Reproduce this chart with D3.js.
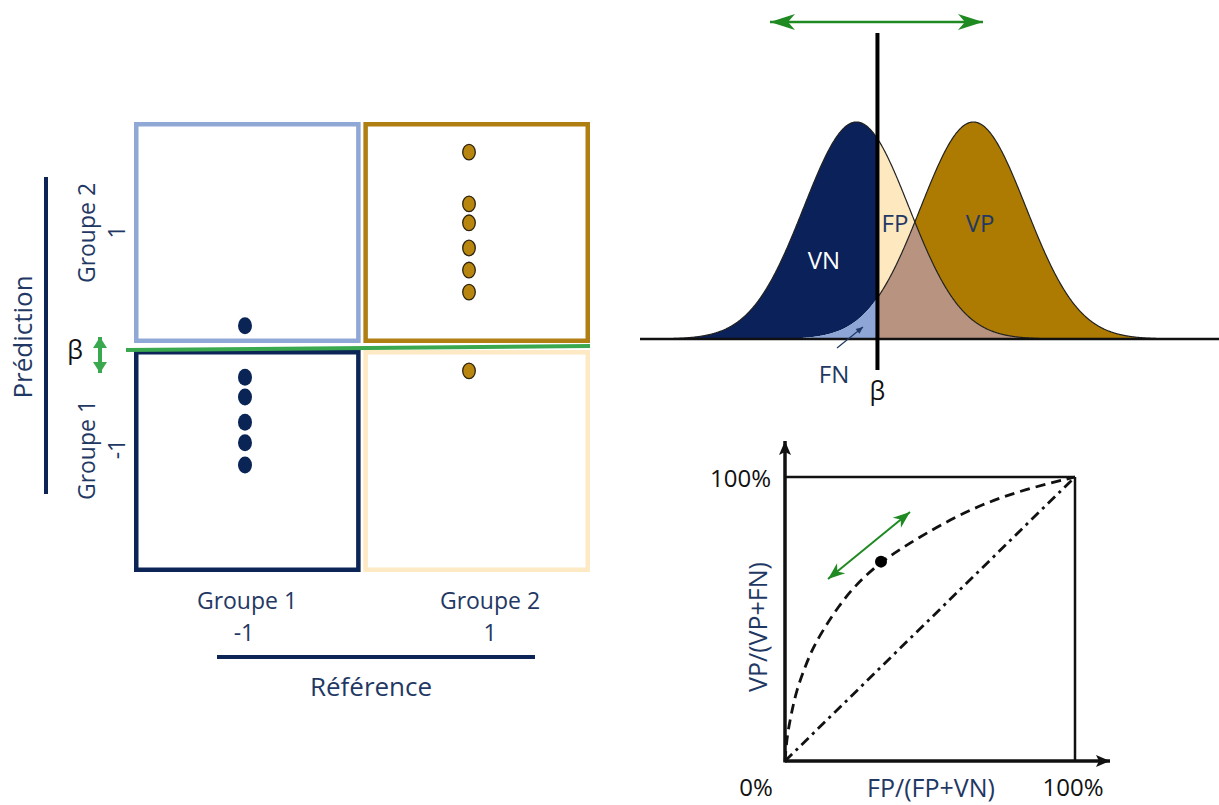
<!DOCTYPE html>
<html><head><meta charset="utf-8">
<script src="https://cdn.jsdelivr.net/npm/d3@7"></script>
<style>body{margin:0;background:#fff} text{font-family:"Open Sans",sans-serif}</style>
</head><body><svg id="c" width="1219" height="805"></svg>
<script>
// ================= DATA =================
// Left panel: confusion grid (reference x prediction) with scores
const referenceGroups = ["Groupe 1", "Groupe 2"];
const referenceCodes = ["-1", "1"];
const predictionGroups = ["Groupe 2", "Groupe 1"];   // top row, bottom row
const predictionCodes = ["1", "-1"];
const group1Scores = [0.547, 0.433, 0.389, 0.333, 0.287, 0.238];
const group2Scores = [0.933, 0.818, 0.776, 0.720, 0.671, 0.622, 0.447];
const betaScore = 0.5;

// Top-right panel: two score distributions (normal shapes) and the threshold
const distNames = ["Groupe 1", "Groupe 2"];
const distMeans = [-1, 1];
const distSds = [0.9, 0.9];
const betaThreshold = -0.64;
const regionLabels = ["VN", "FP", "VP", "FN"];

// Bottom-right panel: ROC curve
const rocFpr = [0, 0.004, 0.010, 0.023, 0.040, 0.069, 0.097, 0.138, 0.183, 0.241, 0.331, 0.425, 0.540, 0.678, 0.828, 1];
const rocTpr = [0, 0.050, 0.105, 0.172, 0.250, 0.331, 0.401, 0.472, 0.542, 0.618, 0.702, 0.764, 0.834, 0.904, 0.957, 1];
const rocPoint = [0.331, 0.702];
const chanceFpr = [0, 1];
const chanceTpr = [0, 1];
const rocTickLabels = ["0%", "100%"];
const rocXLabel = "FP/(FP+VN)";
const rocYLabel = "VP/(VP+FN)";

// ================= DRAW =================
const svg = d3.select("#c");
const NAVY_TXT = "#1f3864";
const defs = svg.append("defs");
function marker(id, color, len, hw, notch) {
  defs.append("marker").attr("id", id)
    .attr("viewBox", `${-len - 1} ${-hw - 1} ${len + 2} ${2 * hw + 2}`)
    .attr("markerUnits", "userSpaceOnUse")
    .attr("markerWidth", len + 2).attr("markerHeight", 2 * hw + 2)
    .attr("refX", 0).attr("refY", 0).attr("orient", "auto-start-reverse")
    .append("path")
    .attr("d", `M0,0 L${-len},${-hw} L${-len + notch},0 L${-len},${hw} Z`)
    .attr("fill", color);
}
marker("arrTop", "#1f8a22", 25, 8, 7);
marker("arrRoc", "#1f8a22", 17, 6.5, 5);
marker("arrLeft", "#3aa84f", 11, 7, 0);
marker("arrFN", NAVY_TXT, 7, 3, 0);
marker("arrAx", "#111", 14, 6, 3);

// ---------- LEFT PANEL ----------
const xBand = d3.scaleBand().domain(referenceGroups).range([134, 590]).paddingInner(0.012);
const yScore = d3.scaleLinear().domain([0, 1]).range([572, 122]);
const xRef = d3.scaleLinear().domain([-1, 1]).range([245, 469]);
const sw = 4.5;
const cellStroke = {
  "Groupe 1|Groupe 2": "#8fa8d6", "Groupe 2|Groupe 2": "#b07f12",
  "Groupe 1|Groupe 1": "#0d2457", "Groupe 2|Groupe 1": "#fde9c3"
};
const rowExtent = {
  "Groupe 2": [yScore(1), yScore(betaScore) - 4],
  "Groupe 1": [yScore(betaScore) + 3, yScore(0)]
};
predictionGroups.forEach(p => {
  referenceGroups.forEach(r => {
    const [y0, y1] = rowExtent[p];
    svg.append("rect")
      .attr("x", xBand(r) + sw / 2).attr("y", y0 + sw / 2)
      .attr("width", xBand.bandwidth() - sw).attr("height", y1 - y0 - sw)
      .attr("fill", "none").attr("stroke", cellStroke[r + "|" + p]).attr("stroke-width", sw);
  });
});
// threshold line
svg.append("line").attr("x1", 126).attr("x2", 590)
  .attr("y1", yScore(betaScore) + 3).attr("y2", yScore(betaScore) - 1)
  .attr("stroke", "#3aa84f").attr("stroke-width", 4);
// dots
svg.selectAll(".d1").data(group1Scores).join("ellipse")
  .attr("cx", xRef(+referenceCodes[0])).attr("cy", d => yScore(d))
  .attr("rx", 7).attr("ry", 8.5).attr("fill", "#0a2456");
svg.selectAll(".d2").data(group2Scores).join("ellipse")
  .attr("cx", xRef(+referenceCodes[1])).attr("cy", d => yScore(d))
  .attr("rx", 6.3).attr("ry", 7.8).attr("fill", "#b8860f")
  .attr("stroke", "#2f2410").attr("stroke-width", 1.3);
// beta + vertical arrow
svg.append("text").attr("x", 75).attr("y", 349).attr("text-anchor", "middle")
  .attr("dominant-baseline", "central").attr("font-size", 25).attr("fill", "#111").text("β");
svg.append("line").attr("x1", 100).attr("x2", 100).attr("y1", 337).attr("y2", 373)
  .attr("stroke", "#3aa84f").attr("stroke-width", 4)
  .attr("marker-start", "url(#arrLeft)").attr("marker-end", "url(#arrLeft)");
// prediction axis labels
svg.append("line").attr("x1", 46).attr("x2", 46).attr("y1", 177).attr("y2", 494)
  .attr("stroke", "#0d2457").attr("stroke-width", 4);
svg.append("text").attr("transform", "translate(22,337) rotate(-90)")
  .attr("text-anchor", "middle").attr("dominant-baseline", "central")
  .attr("font-size", 26).attr("fill", NAVY_TXT).text("Prédiction");
const rowCenters = [233, 450];
predictionGroups.forEach((g, i) => {
  svg.append("text").attr("transform", `translate(86,${rowCenters[i]}) rotate(-90)`)
    .attr("text-anchor", "middle").attr("dominant-baseline", "central")
    .attr("font-size", 23).attr("fill", NAVY_TXT).text(g);
  svg.append("text").attr("transform", `translate(116,${rowCenters[i] - 1}) rotate(-90)`)
    .attr("text-anchor", "middle").attr("dominant-baseline", "central")
    .attr("font-size", 23).attr("fill", NAVY_TXT).text(predictionCodes[i]);
});
// reference axis labels
const colCenters = [247, 490];
referenceGroups.forEach((g, i) => {
  svg.append("text").attr("x", colCenters[i]).attr("y", 600).attr("text-anchor", "middle")
    .attr("dominant-baseline", "central").attr("font-size", 23).attr("fill", NAVY_TXT).text(g);
  svg.append("text").attr("x", colCenters[i] - (i === 0 ? 3 : 0)).attr("y", 632).attr("text-anchor", "middle")
    .attr("dominant-baseline", "central").attr("font-size", 23).attr("fill", NAVY_TXT).text(referenceCodes[i]);
});
svg.append("line").attr("x1", 217).attr("x2", 535).attr("y1", 657).attr("y2", 657)
  .attr("stroke", "#0d2457").attr("stroke-width", 4);
svg.append("text").attr("x", 371).attr("y", 686).attr("text-anchor", "middle")
  .attr("dominant-baseline", "central").attr("font-size", 26).attr("fill", NAVY_TXT).text("Référence");

// ---------- TOP-RIGHT PANEL ----------
const xD = d3.scaleLinear().domain([-4.7, 5.2]).range([640, 1219]);
const yD = d3.scaleLinear().domain([0, 1]).range([339, 122]);
const shape = (x, i) => Math.exp(-0.5 * ((x - distMeans[i]) / distSds[i]) ** 2);
const step = 0.01;
const xsLeft = d3.range(-4.7, betaThreshold, step).concat([betaThreshold]);
const xsRight = [betaThreshold].concat(d3.range(betaThreshold + step, 5.2, step));
const xsAll = d3.range(-4.7, 5.2, step);
const area = (f0, f1) => d3.area().x(x => xD(x)).y0(x => yD(f0(x))).y1(x => yD(f1(x)));
const nav = x => shape(x, 0), gol = x => shape(x, 1), mn = x => Math.min(nav(x), gol(x));
const g2 = svg.append("g");
g2.append("path").datum(xsLeft).attr("d", area(gol, nav)).attr("fill", "#0a2159");           // VN
g2.append("path").datum(xsLeft).attr("d", area(() => 0, gol)).attr("fill", "#8ea6d6");      // FN
g2.append("path").datum(xsRight).attr("d", area(() => 0, mn)).attr("fill", "#b8937f");      // overlap
g2.append("path").datum(xsRight).attr("d", area(mn, x => Math.max(nav(x), mn(x)))).attr("fill", "#fde8bf"); // FP
g2.append("path").datum(xsRight).attr("d", area(mn, x => Math.max(gol(x), mn(x)))).attr("fill", "#ad7a02"); // VP
const line = f => d3.line().x(x => xD(x)).y(x => yD(f(x)));
g2.append("path").datum(xsAll).attr("d", line(nav)).attr("fill", "none").attr("stroke", "#222").attr("stroke-width", 1.2);
g2.append("path").datum(xsRight).attr("d", line(gol)).attr("fill", "none").attr("stroke", "#222").attr("stroke-width", 1.2);
// baseline and threshold
g2.append("line").attr("x1", 640).attr("x2", 1219).attr("y1", yD(0)).attr("y2", yD(0))
  .attr("stroke", "#111").attr("stroke-width", 2.5);
g2.append("line").attr("x1", xD(betaThreshold)).attr("x2", xD(betaThreshold)).attr("y1", 33).attr("y2", 370)
  .attr("stroke", "#000").attr("stroke-width", 4);
g2.append("line").attr("x1", 770).attr("x2", 983).attr("y1", 22).attr("y2", 22)
  .attr("stroke", "#1f8a22").attr("stroke-width", 2.5)
  .attr("marker-start", "url(#arrTop)").attr("marker-end", "url(#arrTop)");
const labelPos = { VN: [824, 259, "#fff"], FP: [895, 222, NAVY_TXT], VP: [980, 222, NAVY_TXT], FN: [834, 373, NAVY_TXT] };
regionLabels.forEach(l => {
  const [x, y, c] = labelPos[l];
  g2.append("text").attr("x", x).attr("y", y).attr("text-anchor", "middle")
    .attr("dominant-baseline", "central").attr("font-size", 24).attr("fill", c).text(l);
});
g2.append("line").attr("x1", 837).attr("y1", 348).attr("x2", 863).attr("y2", 327)
  .attr("stroke", NAVY_TXT).attr("stroke-width", 1.2).attr("marker-end", "url(#arrFN)");
g2.append("text").attr("x", xD(betaThreshold)).attr("y", 390).attr("text-anchor", "middle")
  .attr("dominant-baseline", "central").attr("font-size", 25).attr("fill", "#111").text("β");

// ---------- BOTTOM-RIGHT PANEL (ROC) ----------
const xR = d3.scaleLinear().domain([0, 1]).range([785, 1075]);
const yR = d3.scaleLinear().domain([0, 1]).range([761, 477]);
const g3 = svg.append("g");
// frame
g3.append("line").attr("x1", xR(0)).attr("x2", xR(1)).attr("y1", yR(1)).attr("y2", yR(1)).attr("stroke", "#111").attr("stroke-width", 2.5);
g3.append("line").attr("x1", xR(1)).attr("x2", xR(1)).attr("y1", yR(1)).attr("y2", yR(0)).attr("stroke", "#111").attr("stroke-width", 2.5);
// axes with arrows
g3.append("line").attr("x1", xR(0)).attr("x2", 1110).attr("y1", yR(0)).attr("y2", yR(0))
  .attr("stroke", "#111").attr("stroke-width", 3.5).attr("marker-end", "url(#arrAx)");
g3.append("line").attr("x1", xR(0)).attr("x2", xR(0)).attr("y1", yR(0) + 1.5).attr("y2", 441)
  .attr("stroke", "#111").attr("stroke-width", 3.5).attr("marker-end", "url(#arrAx)");
// chance diagonal
g3.append("path").datum(d3.zip(chanceFpr, chanceTpr))
  .attr("d", d3.line().x(d => xR(d[0])).y(d => yR(d[1])))
  .attr("fill", "none").attr("stroke", "#111").attr("stroke-width", 2.8).attr("stroke-dasharray", "10,5,3,5");
// ROC curve
g3.append("path").datum(d3.zip(rocFpr, rocTpr))
  .attr("d", d3.line().curve(d3.curveBasis).x(d => xR(d[0])).y(d => yR(d[1])))
  .attr("fill", "none").attr("stroke", "#111").attr("stroke-width", 2.8).attr("stroke-dasharray", "10,6");
g3.append("circle").attr("cx", xR(rocPoint[0])).attr("cy", yR(rocPoint[1])).attr("r", 6).attr("fill", "#000");
g3.append("line").attr("x1", 828).attr("y1", 579).attr("x2", 910).attr("y2", 512)
  .attr("stroke", "#1f8a22").attr("stroke-width", 2)
  .attr("marker-start", "url(#arrRoc)").attr("marker-end", "url(#arrRoc)");
// labels
g3.append("text").attr("x", 771).attr("y", 477).attr("text-anchor", "end").attr("dominant-baseline", "central")
  .attr("font-family", "DejaVu Sans").attr("font-size", 24).attr("fill", "#111").text(rocTickLabels[1]);
g3.append("text").attr("x", 756).attr("y", 786).attr("text-anchor", "middle").attr("dominant-baseline", "central")
  .attr("font-family", "DejaVu Sans").attr("font-size", 24).attr("fill", "#111").text(rocTickLabels[0]);
g3.append("text").attr("x", 1073).attr("y", 786).attr("text-anchor", "middle").attr("dominant-baseline", "central")
  .attr("font-family", "DejaVu Sans").attr("font-size", 24).attr("fill", "#111").text(rocTickLabels[1]);
g3.append("text").attr("x", 931).attr("y", 797).attr("text-anchor", "middle")
  .attr("font-size", 25).attr("fill", NAVY_TXT).text(rocXLabel);
g3.append("text").attr("transform", "translate(757,627) rotate(-90)").attr("text-anchor", "middle")
  .attr("dominant-baseline", "central").attr("font-size", 25).attr("fill", NAVY_TXT).text(rocYLabel);
</script></body></html>
